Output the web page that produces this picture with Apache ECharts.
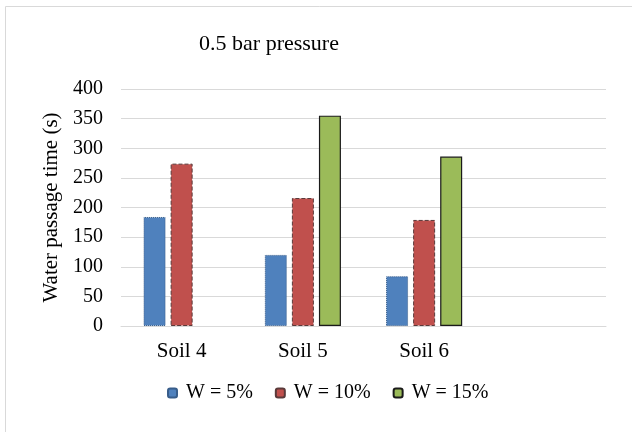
<!DOCTYPE html>
<html><head><meta charset="utf-8">
<script src="https://cdn.jsdelivr.net/npm/echarts@6/dist/echarts.min.js"></script>
<style>html,body{margin:0;padding:0;background:#fff}#c{width:632px;height:432px}</style>
</head><body><div id="c"></div>
<script>
const categories = ['Soil 4', 'Soil 5', 'Soil 6', ''];
const w5 = [184, 120, 84, null];
const w10 = [274, 216, 179, null];
const w15 = [null, 355, 286, null];
const seriesNames = ['W = 5%', 'W = 10%', 'W = 15%'];
const yTicks = [0, 400, 50];

const font = 'Liberation Serif, Times New Roman, serif';
const chart = echarts.init(document.getElementById('c'));
chart.setOption({
  animation: false,
  graphic: [{type: 'rect', shape: {x: 5.5, y: 6.5, width: 700, height: 500},
    style: {fill: 'none', stroke: '#d9d9d9', lineWidth: 1}}],
  title: {text: '0.5 bar pressure', left: 264, top: 28, textAlign: 'center',
    textStyle: {fontFamily: font, fontSize: 22, fontWeight: 'normal', color: '#000'}},
  grid: {left: 121, right: 26, top: 89, bottom: 106},
  legend: {
    bottom: 24, left: 162, itemWidth: 9, itemHeight: 9, itemGap: 22,
    textStyle: {fontFamily: font, fontSize: 20, color: '#000', padding: [0, 0, 0, 4]},
    data: seriesNames
  },
  xAxis: {type: 'category', data: categories,
    axisLine: {lineStyle: {color: '#d9d9d9'}}, axisTick: {show: false},
    axisLabel: {fontFamily: font, fontSize: 21, color: '#000', margin: 15}},
  yAxis: {type: 'value', min: yTicks[0], max: yTicks[1], interval: yTicks[2],
    name: 'Water passage time (s)', nameLocation: 'middle', nameGap: 58,
    nameTextStyle: {fontFamily: font, fontSize: 21, color: '#000'},
    axisLine: {show: false}, axisTick: {show: false},
    splitLine: {lineStyle: {color: '#d9d9d9'}},
    axisLabel: {fontFamily: font, fontSize: 20, color: '#000', margin: 18}},
  series: [
    {name: seriesNames[0], type: 'bar', data: w5, barWidth: 22, barGap: '23%',
      itemStyle: {color: '#4f81bd', borderColor: '#385d8a', borderWidth: 1, borderType: 'dotted'}},
    {name: seriesNames[1], type: 'bar', data: w10, barWidth: 22, barGap: '23%',
      itemStyle: {color: '#c0504d', borderColor: '#5a3a3a', borderWidth: 1, borderType: 'dashed'}},
    {name: seriesNames[2], type: 'bar', data: w15, barWidth: 22, barGap: '23%',
      itemStyle: {color: '#9bbb59', borderColor: '#1a1a1a', borderWidth: 1.2, borderType: 'solid'}}
  ]
});
</script></body></html>
